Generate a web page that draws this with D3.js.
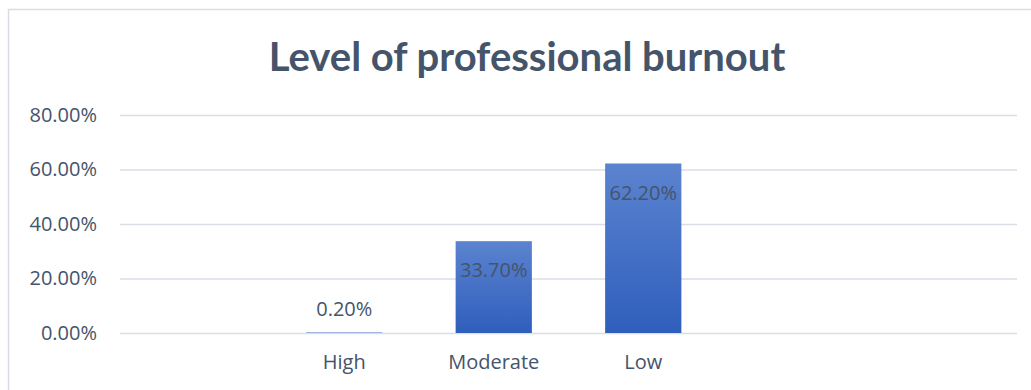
<!DOCTYPE html>
<html>
<head>
<meta charset="utf-8">
<script src="https://cdn.jsdelivr.net/npm/d3@7"></script>
<style>
  html, body { margin: 0; padding: 0; background: #fff; }
  svg { display: block; }
</style>
</head>
<body>
<svg id="chart" width="1031" height="390"></svg>
<script>
// Category slots on the x axis (empty slots keep the spacing of the layout)
const categories = ["", "High", "Moderate", "Low", " ", "  "];
// Share of respondents per burnout level (percent)
const levels = ["High", "Moderate", "Low"];
const values = [0.2, 33.7, 62.2];
// Y axis ticks (percent)
const yTicks = [0, 20, 40, 60, 80];

const svg = d3.select("#chart");
const W = 1031, H = 390;
const margin = { left: 120, right: 14, top: 115, bottom: 57 };
const plotW = W - margin.left - margin.right;
const plotH = H - margin.top - margin.bottom;
const labelFont = "'Open Sans', sans-serif";
const labelSize = 20;
const labelColor = "#44546A";

// Chart frame
svg.append("rect")
  .attr("x", 8.5).attr("y", 9.5)
  .attr("width", W + 20).attr("height", H + 20)
  .attr("fill", "#fff")
  .attr("stroke", "#D9DDE3").attr("stroke-width", 1.5);

const defs = svg.append("defs");
const grad = defs.append("linearGradient")
  .attr("id", "barFill").attr("x1", 0).attr("y1", 0).attr("x2", 0).attr("y2", 1);
grad.append("stop").attr("offset", "0%").attr("stop-color", "#5B83CF");
grad.append("stop").attr("offset", "100%").attr("stop-color", "#2F5EBC");

// Title
svg.append("text")
  .attr("x", 527).attr("y", 71)
  .attr("text-anchor", "middle")
  .attr("font-family", "Lato, 'Open Sans', sans-serif")
  .attr("font-weight", "bold")
  .attr("font-size", 40)
  .attr("fill", "#44546A")
  .text("Level of professional burnout");

const x = d3.scaleBand().domain(categories).range([0, plotW]).paddingInner(0.49).paddingOuter(0.245);
const y = d3.scaleLinear().domain([0, 80]).range([plotH, 0]);

const g = svg.append("g").attr("transform", `translate(${margin.left},${margin.top})`);

// Gridlines and y labels
const yAxis = d3.axisLeft(y).tickValues(yTicks).tickSize(-plotW).tickPadding(23)
  .tickFormat(d => d.toFixed(2) + "%");
const ya = g.append("g").call(yAxis);
ya.select(".domain").remove();
ya.selectAll(".tick line").attr("stroke", "#D9DEE6").attr("stroke-width", 1.5);
ya.selectAll(".tick text")
  .attr("font-family", labelFont)
  .attr("font-size", labelSize)
  .attr("fill", labelColor);

const rows = levels.map((k, i) => ({ k, v: values[i] }));

// Bars
g.selectAll("rect.bar")
  .data(rows)
  .join("rect")
  .attr("class", "bar")
  .attr("x", d => x(d.k))
  .attr("width", x.bandwidth())
  .attr("y", d => y(d.v))
  .attr("height", d => plotH - y(d.v))
  .attr("fill", "url(#barFill)");

// Data labels: small bar gets its label above, tall bars inside near the top
g.selectAll("text.val")
  .data(rows)
  .join("text")
  .attr("class", "val")
  .attr("x", d => x(d.k) + x.bandwidth() / 2)
  .attr("y", d => d.v < 5 ? y(d.v) - 16 : y(d.v) + 36)
  .attr("text-anchor", "middle")
  .attr("font-family", labelFont)
  .attr("font-size", labelSize)
  .attr("fill", labelColor)
  .text(d => d.v.toFixed(2) + "%");

// X axis labels
const xAxis = d3.axisBottom(x).tickSize(0).tickPadding(22);
const xa = g.append("g").attr("transform", `translate(0,${plotH})`).call(xAxis);
xa.select(".domain").remove();
xa.selectAll(".tick text")
  .attr("font-family", labelFont)
  .attr("font-size", labelSize)
  .attr("fill", labelColor);
</script>
</body>
</html>
